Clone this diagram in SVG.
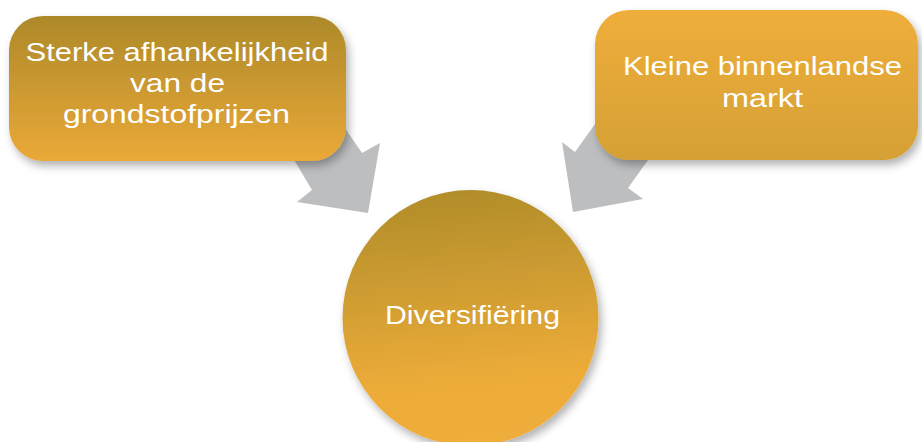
<svg xmlns="http://www.w3.org/2000/svg" width="922" height="442" viewBox="0 0 922 442">
<defs>
<linearGradient id="gLeft" x1="0" y1="0" x2="0" y2="1">
<stop offset="0" stop-color="#AD8929"/>
<stop offset="1" stop-color="#EAA939"/>
</linearGradient>
<linearGradient id="gRight" x1="0" y1="0" x2="0" y2="1">
<stop offset="0" stop-color="#EFAE3B"/>
<stop offset="1" stop-color="#D5A035"/>
</linearGradient>
<linearGradient id="gCircle" x1="0.45" y1="0" x2="0.55" y2="1">
<stop offset="0" stop-color="#B18D2A"/>
<stop offset="0.75" stop-color="#EDAC39"/>
<stop offset="1" stop-color="#EFAD3A"/>
</linearGradient>
<filter id="shadow" x="-20%" y="-20%" width="140%" height="150%">
<feDropShadow dx="3" dy="5" stdDeviation="4" flood-color="#000" flood-opacity="0.3"/>
</filter>
</defs>
<style>
.arrow{fill:#BCBEC0;}
.lbl{font-family:"Liberation Sans",Arial,sans-serif;fill:#FFFFFF;text-anchor:middle;}
</style>
<g id="connectors">
<polygon class="arrow" points="275,128 312,190 297,202 368,213 380,143 362,153 334,112"/>
<polygon class="arrow" points="615,96 575,152 562,142 573,212 643,199 628,188 663,139"/>
</g>
<g id="node-left">
<rect x="9" y="16" width="337" height="145" rx="34" ry="34" fill="url(#gLeft)" filter="url(#shadow)"/>
<text class="lbl" font-size="25" x="177" y="61" textLength="303" lengthAdjust="spacingAndGlyphs">Sterke afhankelijkheid</text>
<text class="lbl" font-size="25" x="177.5" y="92" textLength="95" lengthAdjust="spacingAndGlyphs">van de</text>
<text class="lbl" font-size="25" x="176.5" y="123" textLength="227" lengthAdjust="spacingAndGlyphs">grondstofprijzen</text>
</g>
<g id="node-right">
<rect x="595" y="10" width="323" height="150" rx="34" ry="34" fill="url(#gRight)" filter="url(#shadow)"/>
<text class="lbl" font-size="25" x="762.5" y="75" textLength="279" lengthAdjust="spacingAndGlyphs">Kleine binnenlandse</text>
<text class="lbl" font-size="25" x="762.5" y="107" textLength="81" lengthAdjust="spacingAndGlyphs">markt</text>
</g>
<g id="node-center">
<circle cx="470.5" cy="318" r="128" fill="url(#gCircle)" filter="url(#shadow)"/>
<text class="lbl" font-size="26" x="472.5" y="324" textLength="175" lengthAdjust="spacingAndGlyphs">Diversifiëring</text>
</g>
</svg>
